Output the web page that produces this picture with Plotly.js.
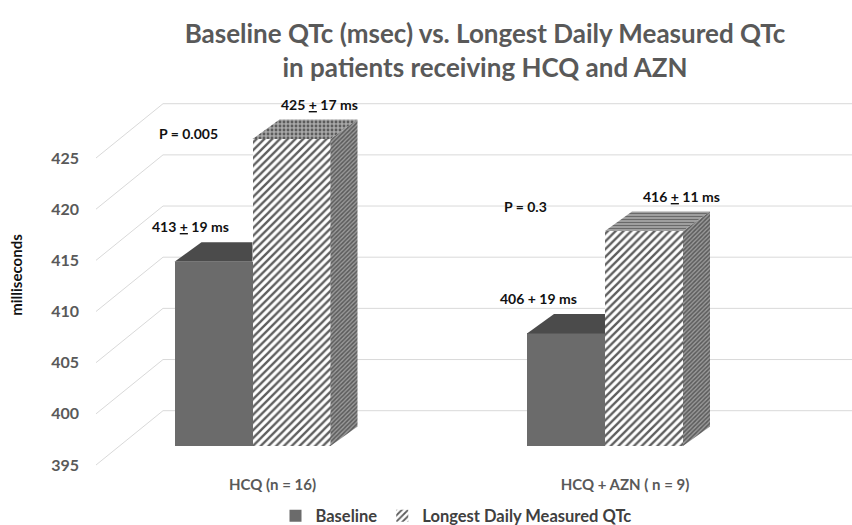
<!DOCTYPE html>
<html><head><meta charset="utf-8">
<script src="https://cdn.plot.ly/plotly-3.0.1.min.js"></script>
<style>html,body{margin:0;padding:0;background:#fff}</style>
</head><body><div id="chart" style="width:852px;height:525px"></div>
<script>
// ---- data ----
const categories = ['HCQ (n = 16)', 'HCQ + AZN ( n = 9)'];
const seriesNames = ['Baseline', 'Longest Daily Measured QTc'];
const baselineQTc = [413, 406];
const longestQTc = [425, 416];
const baselineSD = [19, 19];
const longestSD = [17, 11];
const baselineSign = ['<u>+</u>', '+'];
const longestSign = ['<u>+</u>', '<u>+</u>'];
const pValues = ['0.005', '0.3'];
const yTicks = [395, 400, 405, 410, 415, 420, 425];
const yFloor = 395;

// ---- geometry (pixel-based style constants) ----
const W = 852, H = 525;
const M = {l: 90, r: 0, t: 80, b: 55, autoexpand: false};
const plotW = W - M.l - M.r, plotH = H - M.t - M.b;
const xRange = [-0.461, 1.7007];
const yRange = [392.655, 430.766];
const pxX = plotW / (xRange[1] - xRange[0]);   // px per x unit
const pxY = plotH / (yRange[1] - yRange[0]);   // px per y unit
const barW = 78 / pxX;
const dX = 27 / pxX, dY = 19.5 / pxY;          // bar depth
const wallLeftX = xRange[0] + (163 - M.l) / pxX;
const frontEdgeX = xRange[0] + (96 - M.l) / pxX;
const wallDY = 35.3 / pxY;                      // back wall vs bar front
const edgeDY = 19 / pxY;                        // front edge vs bar front
const labelShift = 20 / pxX;

const FONT = 'Lato, "Open Sans", sans-serif';
const xs = categories.map((c, i) => i);

const traces = [];
traces.push({
  type: 'bar', name: seriesNames[0], x: xs, base: yFloor,
  y: baselineQTc.map(v => v - yFloor), width: barW, offset: -barW,
  marker: {color: '#6b6b6b', line: {width: 0}}
});
traces.push({
  type: 'bar', name: seriesNames[1], x: xs, base: yFloor,
  y: longestQTc.map(v => v - yFloor), width: barW, offset: 0,
  marker: {color: '#ffffff', line: {width: 0},
    pattern: {shape: '/', fgcolor: '#5e5e5e', bgcolor: '#ffffff', size: 5.5, solidity: 0.42, fillmode: 'replace'}}
});

// 3D faces computed from the data values
const topPatterns = [
  {shape: '.', fgcolor: '#5c5c5c', bgcolor: '#a8a8a8', size: 4, solidity: 0.4},
  {shape: '-', fgcolor: '#6a6a6a', bgcolor: '#b0b0b0', size: 3, solidity: 0.5}
];
xs.forEach((c, i) => {
  // baseline top (clipped where longest front face starts)
  const b0 = c - barW, b1 = c, vb = baselineQTc[i];
  traces.push({type: 'scatter', mode: 'lines', showlegend: false, hoverinfo: 'skip',
    x: [b0, b1, b1, b0 + dX, b0], y: [vb, vb, vb + dY, vb + dY, vb],
    fill: 'toself', fillcolor: '#4b4b4b', line: {width: 0}});
  // longest top
  const l0 = c, l1 = c + barW, vl = longestQTc[i];
  traces.push({type: 'scatter', mode: 'lines', showlegend: false, hoverinfo: 'skip',
    x: [l0, l1, l1 + dX, l0 + dX, l0], y: [vl, vl, vl + dY, vl + dY, vl],
    fill: 'toself', fillcolor: '#8c8c8c', line: {width: 0},
    fillpattern: topPatterns[i]});
  // longest side
  traces.push({type: 'scatter', mode: 'lines', showlegend: false, hoverinfo: 'skip',
    x: [l1, l1 + dX, l1 + dX, l1, l1], y: [vl, vl + dY, yFloor + dY, yFloor, vl],
    fill: 'toself', fillcolor: '#7a7a7a', line: {width: 0},
    fillpattern: {shape: '/', fgcolor: '#5a5a5a', bgcolor: '#9a9a9a', size: 3, solidity: 0.5}});
});

// back wall grid + floor diagonals
const shapes = [];
yTicks.forEach(v => {
  shapes.push({type: 'line', layer: 'below', xref: 'x', yref: 'y',
    x0: wallLeftX, x1: xRange[1], y0: v + wallDY, y1: v + wallDY,
    line: {color: '#d9d9d9', width: 1}});
  shapes.push({type: 'line', layer: 'below', xref: 'x', yref: 'y',
    x0: frontEdgeX, x1: wallLeftX, y0: v - edgeDY, y1: v + wallDY,
    line: {color: '#d9d9d9', width: 1}});
});

// data labels
const lblFont = {family: FONT, size: 14, color: '#111111', weight: 'bold'};
const baseShift = [-23, -28], longShift = [28, 37];
const annotations = [];
xs.forEach((c, i) => {
  annotations.push({xref: 'x', yref: 'y', x: c - barW / 2, y: baselineQTc[i],
    text: baselineQTc[i] + ' ' + baselineSign[i] + ' ' + baselineSD[i] + ' ms',
    showarrow: false, xshift: baseShift[i], yshift: 35, font: lblFont});
  annotations.push({xref: 'x', yref: 'y', x: c + barW / 2, y: longestQTc[i],
    text: longestQTc[i] + ' ' + longestSign[i] + ' ' + longestSD[i] + ' ms',
    showarrow: false, xshift: longShift[i], yshift: 35, font: lblFont});
});
const pShiftX = [-64.5, -79.5], pShiftY = [6, 25];
xs.forEach((c, i) => {
  annotations.push({xref: 'x', yref: 'y', x: c, y: longestQTc[i],
    text: 'P = ' + pValues[i], showarrow: false,
    xshift: pShiftX[i], yshift: pShiftY[i], font: lblFont});
});

const layout = {
  width: W, height: H, margin: M,
  paper_bgcolor: '#ffffff', plot_bgcolor: '#ffffff',
  font: {family: FONT, color: '#595959'},
  title: {text: 'Baseline QTc (msec) vs. Longest Daily Measured QTc<br>in patients receiving HCQ and AZN',
    font: {family: FONT, size: 26, color: '#595959', weight: 'bold'},
    x: 485 / W, xanchor: 'center', xref: 'container', y: 1 - 43 / H, yanchor: 'top', yref: 'container'},
  xaxis: {range: xRange, tickvals: xs.map(c => c + labelShift), ticktext: categories,
    showgrid: false, zeroline: false, showline: false, ticks: '', ticklabelstandoff: 4,
    tickfont: {family: FONT, size: 15, color: '#595959', weight: 'bold'}, fixedrange: true},
  yaxis: {range: yRange, showgrid: false, zeroline: false, showline: false,
    showticklabels: false, ticks: '', fixedrange: true},
  yaxis2: {overlaying: 'y', side: 'left', anchor: 'x',
    range: [yRange[0] + edgeDY, yRange[1] + edgeDY], tickvals: yTicks,
    showgrid: false, zeroline: false, showline: false, ticks: '', ticklabelstandoff: 10,
    tickfont: {family: FONT, size: 16, color: '#595959', weight: 'bold'},
    title: {text: 'milliseconds', standoff: 24, font: {family: FONT, size: 15, color: '#111111', weight: 'bold'}},
    fixedrange: true},
  showlegend: true,
  legend: {orientation: 'h', x: (456 - M.l) / plotW, xanchor: 'center', y: (470 - 516) / plotH, yanchor: 'middle',
    font: {family: FONT, size: 16.5, color: '#404040', weight: 'bold'}, traceorder: 'normal'},
  bargap: 0, shapes: shapes, annotations: annotations
};
// invisible trace to activate yaxis2 for the tick labels
traces.push({type: 'scatter', x: [xs[0]], y: [yTicks[0]], yaxis: 'y2', mode: 'markers',
  marker: {opacity: 0}, showlegend: false, hoverinfo: 'skip'});

Plotly.newPlot('chart', traces, layout, {staticPlot: true, displayModeBar: false});
</script></body></html>
